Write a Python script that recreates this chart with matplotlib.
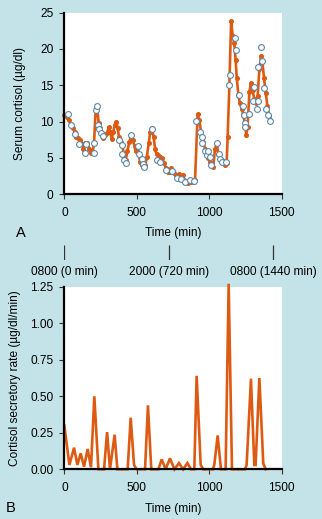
import matplotlib
matplotlib.use("Agg")
import matplotlib.pyplot as plt
from matplotlib.ticker import FormatStrFormatter

plt.rcParams['font.family'] = ['Liberation Sans', 'DejaVu Sans']

BG = '#c4e3e8'
ORANGE = '#dd5a12'
CIRCLE_EDGE = '#5b87a8'

# fitted serum cortisol curve (min, ug/dl)
fit_t = [0, 16, 32, 46, 60, 71, 83, 94, 108, 122, 131, 145, 159, 173, 182, 196,
         205, 216, 225, 237, 246, 258, 269, 283, 294, 306, 317, 327, 338, 347,
         359, 368, 377, 389, 400, 412, 423, 435, 448, 460, 471, 485, 492, 501,
         513, 522, 534, 545, 559, 570, 582, 593, 605, 616, 626, 637, 651, 662,
         676, 688, 702, 713, 725, 734, 745, 754, 768, 780, 791, 805, 816, 828,
         842, 856, 867, 881, 892, 902, 920, 932, 948, 959, 971, 983, 994, 1005,
         1017, 1028, 1040, 1052, 1063, 1074, 1086, 1097, 1109, 1120, 1127, 1139,
         1151, 1162, 1173, 1182, 1190, 1201, 1212, 1224, 1236, 1247, 1256, 1265,
         1277, 1288, 1300, 1311, 1323, 1334, 1346, 1357, 1367, 1378, 1390, 1401,
         1413, 1419]
fit_val = [10.9, 10.7, 10.2, 9.5, 9.1, 8.6, 7.9, 7.7, 7.5, 6.9, 6.3, 7.0, 7.1,
           6.3, 5.7, 5.7, 7.1, 11.5, 12.2, 9.8, 9.1, 8.4, 7.7, 8.2, 8.4, 9.2,
           8.6, 7.6, 8.6, 9.5, 10.0, 9.1, 7.9, 7.2, 6.6, 5.5, 4.7, 5.9, 7.2,
           7.9, 7.5, 6.6, 5.9, 6.0, 5.6, 4.5, 4.0, 3.8, 4.0, 5.2, 7.0, 8.6, 9.1,
           7.9, 6.3, 5.5, 5.3, 5.1, 5.0, 4.3, 3.6, 3.1, 3.1, 3.6, 3.3, 2.9, 2.7,
           2.7, 2.8, 2.3, 2.7, 2.0, 1.7, 1.5, 1.7, 1.7, 1.7, 2.0, 11.0, 10.2,
           7.9, 7.2, 6.3, 5.6, 4.95, 4.5, 4.0, 3.8, 6.3, 7.0, 5.6, 4.95, 4.7,
           4.3, 4.0, 4.3, 7.9, 15.0, 23.8, 21.8, 20.8, 18.5, 16.0, 13.7, 12.5,
           11.8, 10.9, 9.6, 8.2, 9.3, 14.1, 15.3, 14.3, 13.1, 12.5, 13.5, 17.2,
           19.0, 18.2, 16.0, 14.0, 12.2, 10.8, 10.2]

# measured serum cortisol samples
obs_t = [28, 44, 76, 101, 145, 152, 202, 207, 218, 228, 232, 242, 255, 269,
         375, 400, 400, 414, 423, 462, 511, 518, 536, 541, 550, 605, 642, 662,
         699, 741, 777, 807, 835, 869, 897, 909, 936, 950, 952, 968, 982, 991,
         1007, 1012, 1056, 1067, 1074, 1090, 1113, 1134, 1145, 1178, 1187,
         1203, 1231, 1238, 1247, 1249, 1277, 1304, 1311, 1327, 1334, 1339,
         1355, 1366, 1378, 1394, 1405, 1419]
obs_val = [11.1, 9.5, 8.3, 6.9, 5.7, 6.9, 5.7, 7.1, 11.6, 12.2, 9.6, 9.0, 8.5,
           8.0, 7.5, 6.8, 5.6, 4.7, 4.3, 8.1, 6.6, 5.6, 4.8, 4.2, 3.7, 9.0, 4.7,
           4.4, 3.3, 3.2, 2.3, 2.1, 1.7, 2.0, 1.8, 10.1, 8.6, 7.9, 7.0, 6.0, 5.4,
           6.0, 5.2, 4.1, 7.0, 5.6, 4.8, 4.5, 4.4, 15.0, 16.4, 21.5, 19.8, 13.6,
           12.1, 10.9, 9.8, 9.3, 11.0, 12.8, 14.8, 11.8, 12.8, 17.5, 20.3, 18.4,
           14.7, 11.7, 10.9, 10.1]

# deconvolved secretory rate (min, ug/dl/min)
rate_t = [0, 35, 67, 90, 113, 136, 161, 184, 207, 235, 274, 295, 315, 347, 366,
          437, 458, 481, 499, 557, 577, 600, 649, 672, 699, 729, 760, 791, 820,
          849, 875, 897, 913, 941, 959, 1024, 1035, 1058, 1081, 1113, 1134, 1157,
          1247, 1258, 1288, 1311, 1320, 1346, 1373, 1390]
rate_val = [0.30, 0.03, 0.148, 0.03, 0.11, 0.018, 0.139, 0.014, 0.50, 0.0, 0.0,
            0.255, 0.0, 0.237, 0.0, 0.0, 0.353, 0.03, 0.0, 0.0, 0.438, 0.0, 0.0,
            0.068, 0.0, 0.075, 0.0, 0.043, 0.0, 0.043, 0.0, 0.0, 0.64, 0.03,
            0.0, 0.0, 0.03, 0.232, 0.0, 0.0, 1.27, 0.0, 0.0, 0.03, 0.62, 0.03,
            0.03, 0.625, 0.04, 0.0]

clock_min = [0, 720, 1440]
clock_labels = ['0800 (0 min)', '2000 (720 min)', '0800 (1440 min)']

FS = 8.6


def style_axes(ax):
    ax.set_facecolor('white')
    for side in ['top', 'right']:
        ax.spines[side].set_visible(False)
    for side in ['left', 'bottom']:
        ax.spines[side].set_linewidth(1.6)
        ax.spines[side].set_color('black')
    ax.tick_params(axis='both', direction='out', length=3.5, width=0.8,
                   color='#333333', labelsize=FS)
    ax.tick_params(axis='x', pad=5.5)
    ax.tick_params(axis='y', pad=4.5)
    ax.set_xlim(0, 1500)
    ax.set_xticks([0, 500, 1000, 1500])


fig = plt.figure(figsize=(3.22, 5.19), dpi=100)
fig.patch.set_facecolor(BG)

# panel A: serum cortisol
ax1 = fig.add_axes([0.1998, 0.6256, 0.675, 0.350])
style_axes(ax1)
ax1.plot(fit_t, fit_val, color=ORANGE, lw=1.9, marker='o', ms=2.6,
         mfc=ORANGE, mec=ORANGE, zorder=2, clip_on=False)
ax1.plot(obs_t, obs_val, ls='none', marker='o', ms=4.2, mfc='white',
         mec=CIRCLE_EDGE, mew=0.8, zorder=3, clip_on=False)
ax1.set_ylim(0, 25)
ax1.set_yticks([0, 5, 10, 15, 20, 25])

# clock time scale between panels
axc = fig.add_axes([0.1998, 1 - 260 / 519, 0.675, 15 / 519])
axc.patch.set_visible(False)
for side in axc.spines:
    axc.spines[side].set_visible(False)
axc.set_xlim(0, 1500)
axc.set_ylim(0, 1)
axc.set_yticks([])
axc.vlines(clock_min, 0, 1, color='#333333', lw=0.9)
axc.set_xticks(clock_min)
axc.set_xticklabels(clock_labels)
axc.tick_params(axis='x', length=0, pad=4, labelsize=FS)

# panel B: secretory rate
ax2 = fig.add_axes([0.1998, 0.0957, 0.675, 0.3519])
style_axes(ax2)
ax2.plot(rate_t, rate_val, color=ORANGE, lw=1.9, solid_joinstyle='miter',
         zorder=2, clip_on=False)
ax2.set_ylim(0, 1.25)
ax2.set_yticks([0, 0.25, 0.5, 0.75, 1.0, 1.25])
ax2.yaxis.set_major_formatter(FormatStrFormatter('%.2f'))

# labels
fig.text(173 / 322, 1 - 233 / 519, 'Time (min)', ha='center', va='center', fontsize=FS)
fig.text(173 / 322, 1 - 509 / 519, 'Time (min)', ha='center', va='center', fontsize=FS)
fig.text(21 / 322, 1 - 233 / 519, 'A', ha='center', va='center', fontsize=10.5)
fig.text(11 / 322, 1 - 508 / 519, 'B', ha='center', va='center', fontsize=10.5)
fig.text(20 / 322, 1 - 103.5 / 519, 'Serum cortisol (µg/dl)', rotation=90,
         ha='center', va='center', fontsize=FS)
fig.text(15 / 322, 1 - 378 / 519, 'Cortisol secretory rate (µg/dl/min)',
         rotation=90, ha='center', va='center', fontsize=FS)

fig.savefig('out.png', dpi=100, facecolor=BG)
